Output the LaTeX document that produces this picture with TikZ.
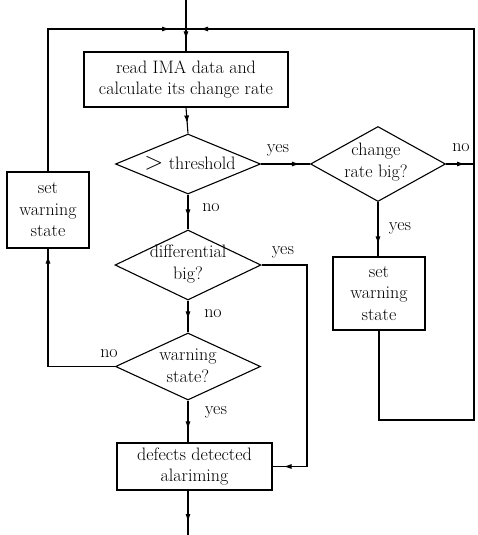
\documentclass[tikz,border=0pt]{standalone}
\usetikzlibrary{shapes.geometric,arrows.meta,decorations.markings}
\begin{document}
\begin{tikzpicture}[x=1pt,y=-1pt,line width=1.1pt,
  every node/.style={font=\fontsize{18}{21.5}\selectfont},
  box/.style={draw,rectangle,inner sep=0pt},
  dia/.style={draw,diamond,inner sep=0pt},
  txt/.style={align=center,inner sep=0pt},
  lbl/.style={inner sep=0pt},
  marr/.style={postaction={decorate,decoration={markings,mark=at position #1 with {\arrow{Latex[length=8pt,width=5pt]}}}}}]
\useasboundingbox (0,0) rectangle (477,535);
% boxes
\node[box,minimum width=204pt,minimum height=55pt] (read) at (186,79.5) {};
\node[txt] (readt) at (read) {read IMA data and\\calculate its change rate};
\node[box,minimum width=82pt,minimum height=76pt] (lset) at (48,210) {};
\node[txt] (lsett) at (lset) {set\\warning\\state};
\node[box,minimum width=92pt,minimum height=73pt] (rset) at (379,293.5) {};
\node[txt] (rsett) at (rset) {set\\warning\\state};
\node[box,minimum width=155pt,minimum height=47pt] (def) at (194.5,466.5) {};
\node[txt] (deft) at (def) {defects detected\\alariming};
% diamonds
\node[dia,minimum width=145pt,minimum height=60pt] (th) at (188,164) {};
\node[txt] (tht) at (190,163) {{\fontsize{26}{26}\selectfont$>$}\ threshold};
\node[dia,minimum width=135pt,minimum height=75pt] (cr) at (378,164) {};
\node[txt] (crt) at (376,162) {change\\rate big?};
\node[dia,minimum width=146pt,minimum height=70pt] (df) at (188,265) {};
\node[txt] (dft) at (188,264) {differential\\big?};
\node[dia,minimum width=145pt,minimum height=67pt] (ws) at (188,366.5) {};
\node[txt] (wst) at (188,366) {warning\\state?};
% coordinates
\coordinate (top) at (186,0);
\coordinate (junc) at (186,29);
\coordinate (rc) at (474,420);
\coordinate (crno) at (474,164);
\coordinate (dfc) at (307,265);
\coordinate (bot) at (188,535);
% connectors
\draw[marr=-12pt] (top) -- (read.north);
\draw[marr=-16pt] (lset.north) |- (junc);
\draw[marr=-14pt] (rset.south) |- (rc) |- (junc);
\draw[marr=-10pt] (read.south) -- (th.north);
\draw[marr=-10pt] (th.east) -- (cr.west);
\draw[marr=-9pt] (cr.east) -- (crno);
\draw[marr=-12pt] (cr.south) -- (cr.south |- rset.north);
\draw[marr=-12pt] (th.south) -- (df.north);
\draw[marr=-11pt] (df.east) -- (dfc) |- (def.east);
\draw[marr=-13pt] (df.south) -- (ws.north);
\draw[marr=-7pt] (ws.west) -| (lset.south);
\draw[marr=-13pt] (ws.south) -- (ws.south |- def.north);
\draw[marr=-13pt] (ws.south |- def.south) -- (bot);
% labels
\node[lbl] (l1) at (278,150) {yes};
\node[lbl] (l2) at (461,148) {no};
\node[lbl] (l3) at (211,208) {no};
\node[lbl] (l4) at (400,228) {yes};
\node[lbl] (l5) at (283,252) {yes};
\node[lbl] (l6) at (213,314) {no};
\node[lbl] (l7) at (109,354) {no};
\node[lbl] (l8) at (216,412) {yes};
\end{tikzpicture}
\end{document}
